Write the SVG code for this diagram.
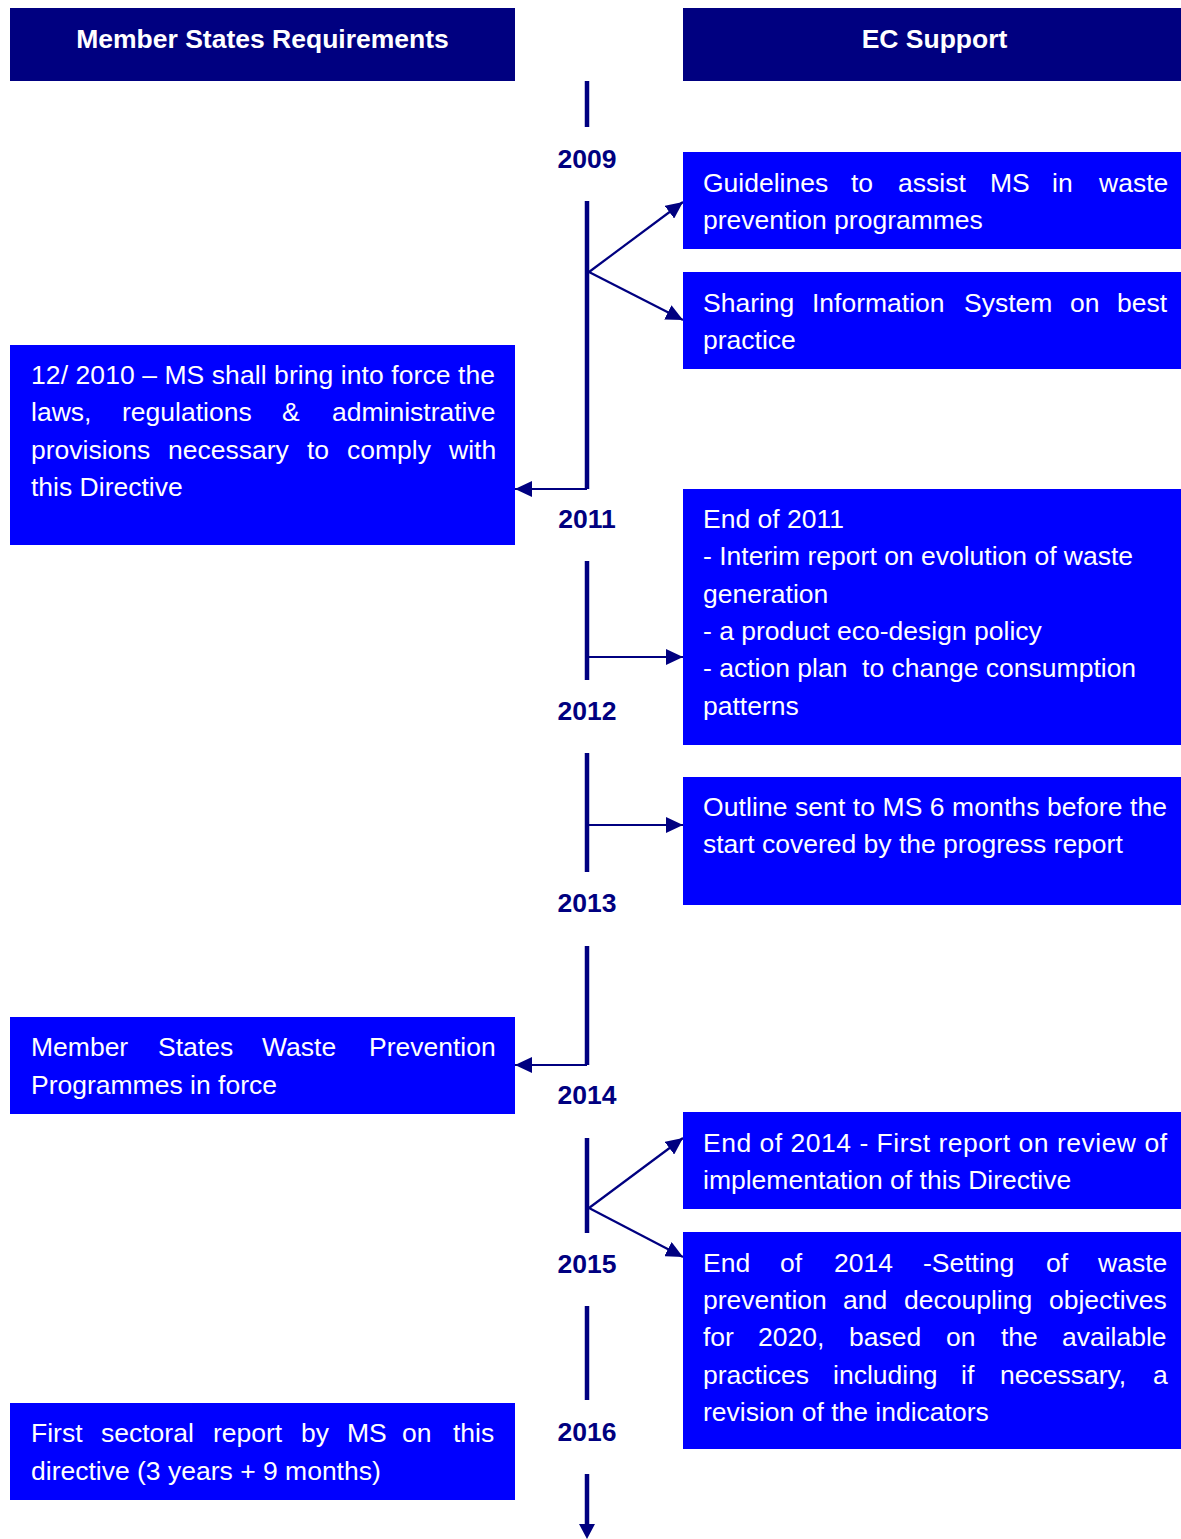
<svg xmlns="http://www.w3.org/2000/svg" width="1181" height="1539" viewBox="0 0 1181 1539">
<style>
.hdr{fill:#000080}
.box{fill:#0000FF}
.ht{font-family:"Liberation Sans",Arial,sans-serif;font-size:26.5px;font-weight:bold;fill:#FFFFFF;text-anchor:middle}
.t{font-family:"Liberation Sans",Arial,sans-serif;font-size:26.5px;fill:#FFFFFF}
.yr{font-family:"Liberation Sans",Arial,sans-serif;font-size:26.5px;font-weight:bold;fill:#000080;text-anchor:middle}
.tl{stroke:#000080;stroke-width:4.5;fill:none}
.cn{stroke:#000080;stroke-width:2.2;fill:none}
</style>
<defs>
<marker id="ah" markerUnits="userSpaceOnUse" markerWidth="18" markerHeight="16" refX="17" refY="8" orient="auto">
<path d="M0,0 L17,8 L0,16 z" fill="#000080"/>
</marker>
</defs>
<rect width="1181" height="1539" fill="#FFFFFF"/>

<g id="hdr-ms">
<rect class="hdr" x="10" y="8" width="505" height="73"/>
<text class="ht" x="262.5" y="48">Member States Requirements</text>
</g>
<g id="hdr-ec">
<rect class="hdr" x="683" y="8" width="498" height="73"/>
<text class="ht" x="934.5" y="48">EC Support</text>
</g>

<g id="years">
<text class="yr" x="587" y="168">2009</text>
<text class="yr" x="587" y="528">2011</text>
<text class="yr" x="587" y="720">2012</text>
<text class="yr" x="587" y="912">2013</text>
<text class="yr" x="587" y="1104">2014</text>
<text class="yr" x="587" y="1273">2015</text>
<text class="yr" x="587" y="1441">2016</text>
</g>

<g id="connectors">
<line class="tl" x1="587" y1="81" x2="587" y2="127"/>
<line class="tl" x1="587" y1="201" x2="587" y2="489"/>
<line class="tl" x1="587" y1="561" x2="587" y2="680"/>
<line class="tl" x1="587" y1="753" x2="587" y2="872"/>
<line class="tl" x1="587" y1="946" x2="587" y2="1065"/>
<line class="tl" x1="587" y1="1138" x2="587" y2="1233"/>
<line class="tl" x1="587" y1="1306" x2="587" y2="1400"/>
<line class="tl" x1="587" y1="1474" x2="587" y2="1530"/>
<path d="M579,1524 L595,1524 L587,1539 z" fill="#000080"/>
<line class="cn" x1="589" y1="272" x2="683" y2="202" marker-end="url(#ah)"/>
<line class="cn" x1="589" y1="272" x2="683" y2="320" marker-end="url(#ah)"/>
<line class="cn" x1="587" y1="489" x2="515" y2="489" marker-end="url(#ah)"/>
<line class="cn" x1="589" y1="657" x2="683" y2="657" marker-end="url(#ah)"/>
<line class="cn" x1="589" y1="825" x2="683" y2="825" marker-end="url(#ah)"/>
<line class="cn" x1="587" y1="1065" x2="515" y2="1065" marker-end="url(#ah)"/>
<line class="cn" x1="589" y1="1208" x2="683" y2="1138" marker-end="url(#ah)"/>
<line class="cn" x1="589" y1="1208" x2="683" y2="1257" marker-end="url(#ah)"/>
</g>

<g id="ec-guidelines">
<rect class="box" x="683" y="152" width="498" height="97"/>
<text class="t" y="192"><tspan x="703">Guidelines</tspan><tspan x="851">to</tspan><tspan x="898">assist</tspan><tspan x="990">MS</tspan><tspan x="1052">in</tspan><tspan x="1099">waste</tspan></text>
<text class="t" x="703" y="229">prevention programmes</text>
</g>

<g id="ec-sharing">
<rect class="box" x="683" y="272" width="498" height="97"/>
<text class="t" y="312"><tspan x="703">Sharing</tspan><tspan x="812">Information</tspan><tspan x="964">System</tspan><tspan x="1070">on</tspan><tspan x="1117">best</tspan></text>
<text class="t" x="703" y="349">practice</text>
</g>

<g id="ms-2010">
<rect class="box" x="10" y="345" width="505" height="200"/>
<text class="t" x="31" y="384" textLength="464" lengthAdjust="spacing">12/ 2010 – MS shall bring into force the</text>
<text class="t" y="421"><tspan x="31">laws,</tspan><tspan x="122">regulations</tspan><tspan x="282">&amp;</tspan><tspan x="332">administrative</tspan></text>
<text class="t" y="459"><tspan x="31">provisions</tspan><tspan x="168">necessary</tspan><tspan x="307">to</tspan><tspan x="347">comply</tspan><tspan x="449">with</tspan></text>
<text class="t" x="31" y="496">this Directive</text>
</g>

<g id="ec-2011">
<rect class="box" x="683" y="489" width="498" height="256"/>
<text class="t" x="703" y="528">End of 2011</text>
<text class="t" x="703" y="565">- Interim report on evolution of waste</text>
<text class="t" x="703" y="603">generation</text>
<text class="t" x="703" y="640">- a product eco-design policy</text>
<text class="t" x="703" y="677" xml:space="preserve">- action plan  to change consumption</text>
<text class="t" x="703" y="715">patterns</text>
</g>

<g id="ec-outline">
<rect class="box" x="683" y="777" width="498" height="128"/>
<text class="t" x="703" y="816" textLength="464" lengthAdjust="spacing">Outline sent to MS 6 months before the</text>
<text class="t" x="703" y="853">start covered by the progress report</text>
</g>

<g id="ms-programmes">
<rect class="box" x="10" y="1017" width="505" height="97"/>
<text class="t" y="1056"><tspan x="31">Member</tspan><tspan x="158">States</tspan><tspan x="262">Waste</tspan><tspan x="369">Prevention</tspan></text>
<text class="t" x="31" y="1094">Programmes in force</text>
</g>

<g id="ec-first-report">
<rect class="box" x="683" y="1112" width="498" height="97"/>
<text class="t" x="703" y="1152" textLength="464" lengthAdjust="spacing">End of 2014 - First report on review of</text>
<text class="t" x="703" y="1189">implementation of this Directive</text>
</g>

<g id="ec-objectives">
<rect class="box" x="683" y="1232" width="498" height="217"/>
<text class="t" y="1272"><tspan x="703">End</tspan><tspan x="780">of</tspan><tspan x="834">2014</tspan><tspan x="923">-Setting</tspan><tspan x="1046">of</tspan><tspan x="1098">waste</tspan></text>
<text class="t" y="1309"><tspan x="703">prevention</tspan><tspan x="843">and</tspan><tspan x="904">decoupling</tspan><tspan x="1049">objectives</tspan></text>
<text class="t" y="1346"><tspan x="703">for</tspan><tspan x="758">2020,</tspan><tspan x="849">based</tspan><tspan x="946">on</tspan><tspan x="1001">the</tspan><tspan x="1062">available</tspan></text>
<text class="t" y="1384"><tspan x="703">practices</tspan><tspan x="833">including</tspan><tspan x="961">if</tspan><tspan x="1000">necessary,</tspan><tspan x="1153">a</tspan></text>
<text class="t" x="703" y="1421">revision of the indicators</text>
</g>

<g id="ms-sectoral">
<rect class="box" x="10" y="1403" width="505" height="97"/>
<text class="t" y="1442"><tspan x="31">First</tspan><tspan x="101">sectoral</tspan><tspan x="213">report</tspan><tspan x="301">by</tspan><tspan x="347">MS</tspan><tspan x="402">on</tspan><tspan x="453">this</tspan></text>
<text class="t" x="31" y="1480">directive (3 years + 9 months)</text>
</g>
</svg>
